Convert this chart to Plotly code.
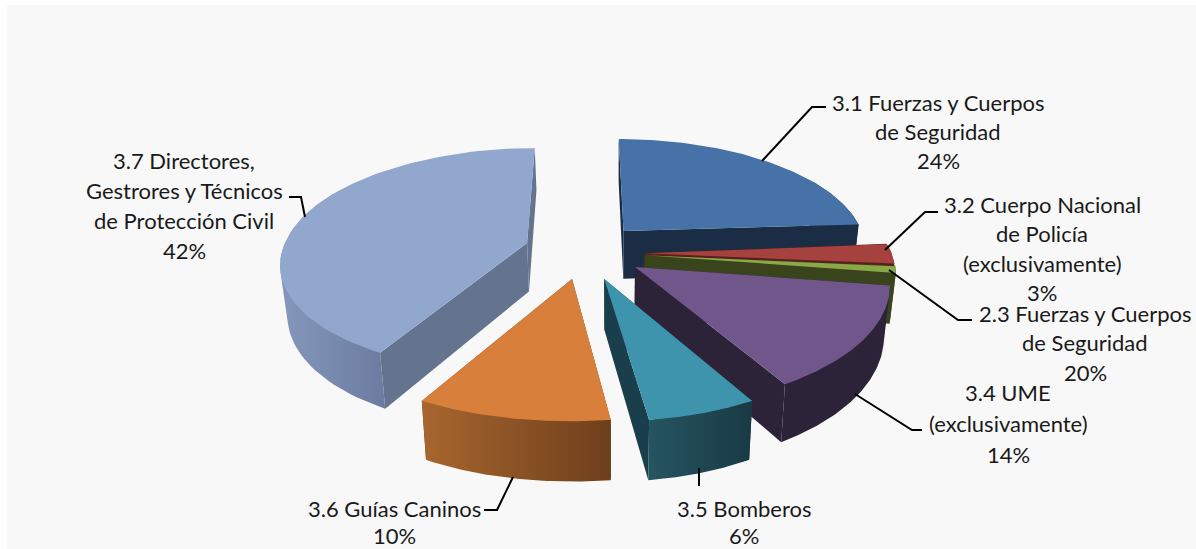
import numpy as np
import plotly.graph_objects as go

# ---- data ----
categories = ["3.1 Fuerzas y Cuerpos de Seguridad", "3.2 Cuerpo Nacional de Policía (exclusivamente)",
              "2.3 Fuerzas y Cuerpos de Seguridad", "3.4 UME (exclusivamente)",
              "3.5 Bomberos", "3.6 Guías Caninos", "3.7 Directores, Gestrores y Técnicos de Protección Civil"]
drawn_share = [24, 3, 1, 14, 6, 10, 42]
printed_pct = ["24%", "3%", "20%", "14%", "6%", "10%", "42%"]
label_lines = [["3.1 Fuerzas y Cuerpos", "de Seguridad"],
               ["3.2 Cuerpo Nacional", "de Policía", "(exclusivamente)"],
               ["2.3 Fuerzas y Cuerpos", "de Seguridad"],
               ["3.4 UME", "(exclusivamente)"],
               ["3.5 Bomberos"],
               ["3.6 Guías Caninos"],
               ["3.7 Directores,", "Gestrores y Técnicos", "de Protección Civil"]]

# ---- styling / layout ----
top_col = ["#4672a8", "#a5423f", "#8aa848", "#71568b", "#3f94ad", "#d8803b", "#92a7cd"]
cut_col = ["#1a2d45", "#5a1f1d", "#3a441c", "#2d2339", "#1a3e4c", "#6e3f1c", "#64748e"]
arc_grad = [("#1a2d45", "#1a2d45"), ("#5a1f1d", "#5a1f1d"), ("#3a441c", "#3a441c"),
            ("#2d2339", "#2d2339"), ("#255560", "#193a45"), ("#a8662e", "#6e3f1c"), ("#8597ba", "#6b7ca0")]
# offset of every slice from the pie centre (pie-plane units), like a per-slice "pull"
pull_x = [.046, .126, .126, .082, -.043, -.168, -.355]
pull_y = [-.112, .093, .11, .213, .315, .315, 0.0]
draw_order = [0, 1, 2, 6, 3, 4, 5]

XC, YC, A, B, P = 613.0, 243.0, 242.0, 109.0, .149
DEPTH, SHRINK = 48.5, .978
FONT = dict(family="Lato, Carlito, sans-serif", size=22, color="#1a1a1a")


def project(X, Y, low=False):
    f = 1.0 / (1.0 - P * Y)
    # small view skew: the back leans left, the front right-hand side leans right
    skew = 4.0 * np.minimum(Y, 0) + 7.0 * np.maximum(Y, 0) * np.clip(X + .64, 0, .64) / .64
    lift = 8.0 * np.clip(X - .5, 0, .5) * np.clip((Y + .1) * 5, 0, 1)
    x = XC + (A * X + skew) * f
    y = YC + B * Y * f - lift
    if low:
        x = XC + (x - XC) * SHRINK
        y = y + DEPTH * f
    return x, y


def hull(xs, ys):
    pts = sorted(set(zip(np.round(xs, 3).tolist(), np.round(ys, 3).tolist())))

    def half(seq):
        out = []
        for p in seq:
            while len(out) > 1 and (out[-1][0] - out[-2][0]) * (p[1] - out[-2][1]) \
                    - (out[-1][1] - out[-2][1]) * (p[0] - out[-2][0]) <= 0:
                out.pop()
            out.append(p)
        return out[:-1]

    ring = half(pts) + half(pts[::-1])
    ring.append(ring[0])
    return [p[0] for p in ring], [p[1] for p in ring]


fracs = np.array(drawn_share, dtype=float) / sum(drawn_share)
ends = np.cumsum(fracs) * 2 * np.pi
starts = ends - fracs * 2 * np.pi

fig = go.Figure()


def poly(xs, ys, name, color=None, grad=None):
    kw = dict(fillgradient=dict(type="horizontal", colorscale=[[0, grad[0]], [1, grad[1]]])) if grad else dict(fillcolor=color)
    fig.add_trace(go.Scatter(x=xs, y=ys, mode="lines", fill="toself", line=dict(width=0),
                             name=name, hoverinfo="name", showlegend=False, **kw))


for i in draw_order:
    th = np.linspace(starts[i], ends[i], 80)
    X = pull_x[i] + np.sin(th)
    Y = pull_y[i] - np.cos(th)
    tx, ty = project(X, Y)
    lx, ly = project(X, Y, low=True)
    ax, ay = project(np.float64(pull_x[i]), np.float64(pull_y[i]))
    bx, by = project(np.float64(pull_x[i]), np.float64(pull_y[i]), low=True)
    name = categories[i]
    # cut walls
    poly([ax, tx[0], lx[0], bx, ax], [ay, ty[0], ly[0], by, ay], name, color=cut_col[i])
    poly([ax, tx[-1], lx[-1], bx, ax], [ay, ty[-1], ly[-1], by, ay], name, color=cut_col[i])
    # outer wall: only the part that faces the viewer
    mask = Y - pull_y[i] > -.5
    if mask.sum() > 1:
        wx, wy = hull(np.r_[tx[mask], lx[mask]], np.r_[ty[mask], ly[mask]])
        poly(wx, wy, name, grad=arc_grad[i])
    # top face
    poly(np.r_[ax, tx, ax], np.r_[ay, ty, ay], name, color=top_col[i])

# ---- leader lines ----
leaders = [[(762, 161), (812, 107), (826, 107)],
           [(885, 250), (925, 212), (938, 212)],
           [(889, 270), (958, 320), (972, 320)],
           [(855, 394), (912, 430), (922, 430)],
           [(699, 468), (699, 486)],
           [(513, 477), (497, 510), (484, 510)],
           [(305, 217), (301, 197), (289, 197)]]
shapes = [dict(type="rect", xref="x", yref="y", x0=7, x1=1196, y0=5, y1=549,
               fillcolor="#f8f8f8", line=dict(width=0), layer="below")]
for pts in leaders:
    path = "M " + " L ".join(f"{a},{b}" for a, b in pts)
    shapes.append(dict(type="path", path=path, xref="x", yref="y", line=dict(color="black", width=2)))

# ---- text ----
label_cx = [938, 1042, 1085, 1008, 744, 394, 184]
label_y0 = [102, 204, 313, 392, 508, 508, 160]
label_dy = [29, 29.5, 29.5, 31, 27, 27, 30]
annotations = []
for i in range(len(categories)):
    for k, line in enumerate(label_lines[i] + [printed_pct[i]]):
        annotations.append(dict(x=label_cx[i], y=label_y0[i] + k * label_dy[i], text=line, xref="x", yref="y",
                                showarrow=False, font=FONT, xanchor="center", yanchor="middle"))

fig.update_layout(width=1196, height=549, margin=dict(l=0, r=0, t=0, b=0), paper_bgcolor="white",
                  plot_bgcolor="white", showlegend=False, shapes=shapes, annotations=annotations,
                  xaxis=dict(visible=False, range=[0, 1196], fixedrange=True),
                  yaxis=dict(visible=False, range=[549, 0], fixedrange=True))
fig.write_html("out.html", config=dict(displayModeBar=False),
               post_script="document.body.style.margin='0';document.documentElement.style.overflow='hidden';")
